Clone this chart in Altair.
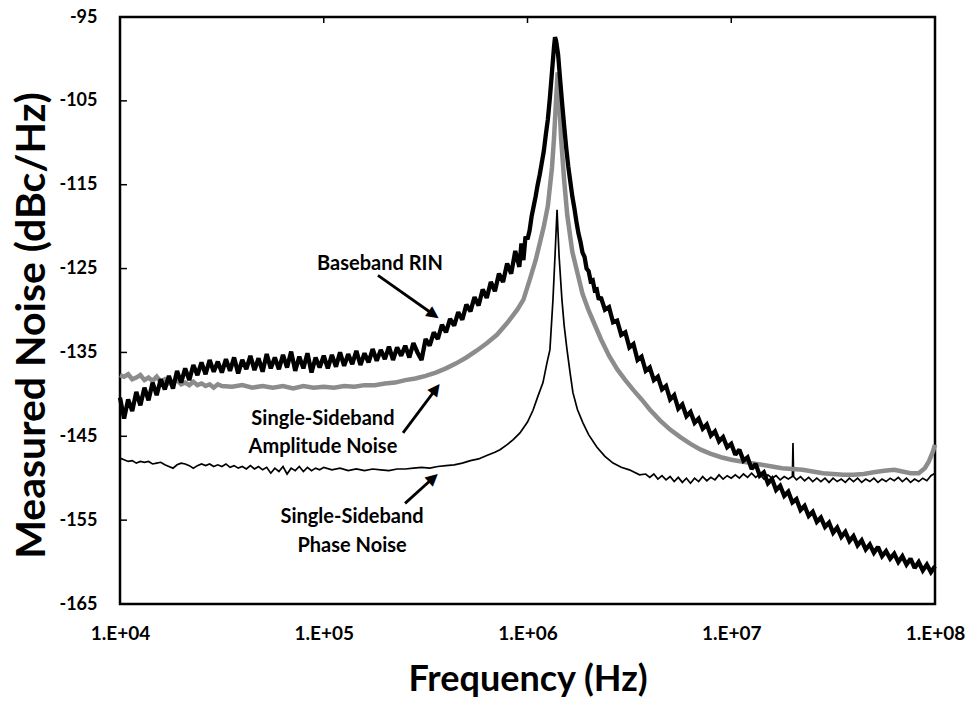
import math
import altair as alt
import pandas as pd

# ---------------- data (x = log10 of frequency in Hz, y = dBc/Hz) ----------------
rin_points = [
    (4.00, -140.4), (4.02, -142.9), (4.04, -140.6), (4.06, -142.0), (4.08, -139.7), (4.10, -141.3),
    (4.12, -139.2), (4.14, -140.7), (4.16, -138.6), (4.18, -140.1), (4.20, -138.2), (4.22, -139.4),
    (4.24, -137.8), (4.26, -139.3), (4.28, -137.2), (4.30, -138.6), (4.32, -136.9), (4.34, -138.3),
    (4.36, -136.5), (4.38, -137.7), (4.40, -136.2), (4.42, -137.6), (4.44, -135.9), (4.46, -137.3),
    (4.48, -136.1), (4.50, -137.4), (4.52, -135.8), (4.54, -137.2), (4.56, -135.6), (4.58, -137.5),
    (4.60, -135.9), (4.62, -137.0), (4.64, -135.4), (4.66, -137.1), (4.68, -135.7), (4.70, -137.3),
    (4.72, -135.2), (4.74, -136.9), (4.76, -135.6), (4.78, -137.0), (4.80, -135.3), (4.82, -136.8),
    (4.84, -134.9), (4.86, -137.2), (4.88, -135.5), (4.90, -136.9), (4.92, -135.1), (4.94, -137.4),
    (4.96, -135.6), (4.98, -136.8), (5.00, -135.4), (5.02, -136.9), (5.04, -135.3), (5.06, -136.7),
    (5.08, -135.0), (5.10, -136.6), (5.12, -135.2), (5.14, -136.4), (5.16, -134.8), (5.18, -136.5),
    (5.20, -135.1), (5.22, -136.2), (5.24, -134.6), (5.26, -136.0), (5.28, -134.7), (5.30, -135.8),
    (5.32, -134.3), (5.34, -135.9), (5.36, -134.4), (5.38, -135.4), (5.40, -134.2), (5.42, -135.6),
    (5.44, -133.9), (5.46, -135.0), (5.48, -135.9), (5.50, -133.4), (5.52, -134.2), (5.54, -132.6),
    (5.56, -133.4), (5.58, -131.7), (5.60, -132.6), (5.62, -131.0), (5.64, -131.8), (5.66, -130.2),
    (5.68, -131.1), (5.70, -129.3), (5.72, -130.1), (5.74, -128.4), (5.76, -129.4), (5.78, -127.5),
    (5.80, -128.5), (5.82, -126.6), (5.84, -127.7), (5.86, -125.6), (5.88, -126.6), (5.90, -124.4),
    (5.92, -125.6), (5.94, -122.9), (5.96, -124.8), (5.97, -122.0), (5.98, -124.0), (5.99, -121.2),
    (6.00, -121.5), (6.01, -120.5), (6.02, -118.8), (6.03, -117.6), (6.04, -116.4), (6.05, -115.0),
    (6.06, -113.8), (6.07, -112.4), (6.08, -111.0), (6.09, -109.0), (6.10, -107.2), (6.11, -104.6),
    (6.12, -101.6), (6.13, -98.6), (6.135, -97.4), (6.14, -97.8), (6.15, -99.4), (6.16, -102.4),
    (6.17, -105.3), (6.18, -108.0), (6.19, -110.6), (6.20, -112.8), (6.21, -114.6), (6.22, -116.4),
    (6.23, -117.8), (6.24, -119.4), (6.25, -120.8), (6.26, -121.8), (6.27, -123.1), (6.28, -123.6),
    (6.29, -125.0), (6.30, -125.3), (6.31, -126.5), (6.32, -126.4), (6.33, -127.6), (6.34, -127.5),
    (6.35, -128.7), (6.36, -128.4), (6.38, -129.9), (6.40, -129.6), (6.42, -131.4), (6.44, -131.2),
    (6.46, -132.9), (6.48, -132.6), (6.50, -134.4), (6.52, -134.0), (6.54, -135.9), (6.56, -135.5),
    (6.58, -137.2), (6.60, -136.8), (6.62, -138.3), (6.64, -137.9), (6.66, -139.4), (6.68, -139.0),
    (6.70, -140.6), (6.72, -140.1), (6.74, -141.7), (6.76, -141.2), (6.78, -142.6), (6.80, -142.1),
    (6.82, -143.4), (6.84, -142.9), (6.86, -144.1), (6.88, -143.6), (6.90, -144.9), (6.92, -144.4),
    (6.94, -145.6), (6.96, -145.1), (6.98, -146.3), (7.00, -145.9), (7.02, -147.2), (7.04, -146.6),
    (7.06, -147.9), (7.08, -147.5), (7.10, -148.9), (7.12, -148.3), (7.14, -149.7), (7.16, -149.3),
    (7.18, -150.6), (7.20, -150.1), (7.22, -151.4), (7.24, -150.9), (7.26, -152.1), (7.28, -151.6),
    (7.30, -152.9), (7.32, -152.5), (7.34, -153.8), (7.36, -153.3), (7.38, -154.5), (7.40, -154.0),
    (7.42, -155.2), (7.44, -154.7), (7.46, -155.8), (7.48, -155.3), (7.50, -156.5), (7.52, -155.9),
    (7.54, -157.0), (7.56, -156.4), (7.58, -157.5), (7.60, -156.9), (7.62, -158.0), (7.64, -157.4),
    (7.66, -158.5), (7.68, -157.9), (7.70, -158.9), (7.72, -158.2), (7.74, -159.3), (7.76, -158.7),
    (7.78, -159.6), (7.80, -159.0), (7.82, -160.0), (7.84, -159.3), (7.86, -160.3), (7.88, -159.6),
    (7.90, -160.7), (7.92, -160.0), (7.94, -161.0), (7.96, -160.3), (7.98, -161.2), (8.00, -160.5),
]

amp_points = [
    (4.00, -137.7), (4.02, -137.9), (4.04, -137.6), (4.06, -138.2), (4.08, -138.0), (4.10, -137.7),
    (4.12, -138.3), (4.14, -138.0), (4.16, -138.4), (4.18, -137.9), (4.20, -138.5), (4.22, -138.2),
    (4.24, -138.7), (4.26, -138.5), (4.28, -138.3), (4.30, -138.8), (4.32, -138.6), (4.34, -138.9),
    (4.36, -138.5), (4.38, -138.9), (4.40, -138.7), (4.42, -139.0), (4.44, -138.8), (4.46, -139.2),
    (4.48, -138.8), (4.50, -139.0), (4.55, -139.1), (4.60, -138.9), (4.65, -139.2), (4.70, -139.0),
    (4.75, -139.2), (4.80, -139.0), (4.85, -139.3), (4.90, -139.0), (4.95, -139.2), (5.00, -139.1),
    (5.05, -139.2), (5.10, -139.0), (5.15, -139.1), (5.20, -138.9), (5.25, -138.9), (5.30, -138.7),
    (5.35, -138.6), (5.40, -138.3), (5.45, -138.1), (5.50, -137.8), (5.55, -137.4), (5.60, -136.9),
    (5.65, -136.3), (5.70, -135.6), (5.75, -134.8), (5.80, -133.9), (5.85, -132.9), (5.90, -131.5),
    (5.95, -129.9), (5.98, -128.7), (6.01, -126.4), (6.04, -124.0), (6.06, -122.0), (6.08, -120.0),
    (6.10, -117.5), (6.12, -113.0), (6.13, -109.5), (6.14, -105.0), (6.148, -101.6), (6.155, -104.8),
    (6.165, -109.5), (6.18, -114.5), (6.195, -118.6), (6.22, -123.0), (6.25, -126.0), (6.27, -128.0),
    (6.30, -130.0), (6.33, -131.7), (6.36, -133.4), (6.40, -135.4), (6.44, -137.0), (6.48, -138.3),
    (6.52, -139.5), (6.56, -140.6), (6.60, -141.8), (6.65, -143.1), (6.70, -144.2), (6.75, -145.1),
    (6.80, -145.9), (6.85, -146.6), (6.90, -147.1), (6.95, -147.5), (7.00, -147.8), (7.05, -148.0),
    (7.10, -148.2), (7.15, -148.4), (7.20, -148.6), (7.25, -148.8), (7.30, -148.9), (7.35, -149.0),
    (7.40, -149.2), (7.45, -149.4), (7.50, -149.5), (7.55, -149.6), (7.60, -149.6), (7.65, -149.5),
    (7.70, -149.3), (7.75, -149.1), (7.80, -149.0), (7.84, -149.2), (7.88, -149.4), (7.92, -149.4),
    (7.95, -148.8), (7.97, -148.0), (7.99, -146.8), (8.00, -146.0),
]

phase_points = [
    (4.00, -147.6), (4.02, -147.8), (4.04, -148.0), (4.06, -147.9), (4.08, -148.2), (4.10, -148.0),
    (4.12, -148.1), (4.14, -148.0), (4.16, -148.3), (4.18, -148.2), (4.20, -148.1), (4.22, -148.4),
    (4.24, -148.6), (4.26, -148.8), (4.28, -148.4), (4.30, -148.2), (4.32, -148.3), (4.34, -148.5),
    (4.36, -148.8), (4.38, -148.5), (4.40, -148.3), (4.42, -148.5), (4.44, -148.3), (4.46, -148.6),
    (4.48, -148.4), (4.50, -148.6), (4.52, -148.3), (4.54, -148.7), (4.56, -148.5), (4.58, -148.8),
    (4.60, -148.6), (4.62, -148.9), (4.64, -148.5), (4.66, -148.9), (4.68, -148.6), (4.70, -149.0),
    (4.72, -148.7), (4.74, -149.4), (4.76, -148.8), (4.78, -149.2), (4.80, -148.6), (4.82, -149.5),
    (4.84, -148.8), (4.86, -149.1), (4.88, -148.6), (4.90, -149.2), (4.92, -148.7), (4.94, -149.1),
    (4.96, -148.8), (4.98, -149.0), (5.00, -148.7), (5.04, -149.0), (5.08, -148.8), (5.12, -149.1),
    (5.16, -148.9), (5.20, -149.1), (5.24, -148.9), (5.28, -149.0), (5.32, -149.1), (5.36, -148.9),
    (5.40, -148.9), (5.44, -148.8), (5.48, -148.7), (5.52, -148.8), (5.56, -148.6), (5.60, -148.5),
    (5.64, -148.4), (5.68, -148.2), (5.72, -147.9), (5.76, -147.7), (5.80, -147.3), (5.84, -146.9),
    (5.865, -146.6), (5.90, -146.0), (5.93, -145.4), (5.963, -144.6), (6.00, -143.3), (6.027, -141.9),
    (6.05, -140.3), (6.076, -138.6), (6.095, -136.3), (6.11, -134.7), (6.125, -128.7), (6.135, -123.5),
    (6.145, -118.0), (6.155, -123.5), (6.169, -128.7), (6.18, -131.8), (6.194, -134.7), (6.21, -137.6),
    (6.223, -139.8), (6.245, -141.8), (6.272, -143.4), (6.30, -144.8), (6.341, -146.3), (6.38, -147.4),
    (6.42, -148.2), (6.46, -148.7), (6.50, -149.0), (6.55, -149.6), (6.58, -149.5), (6.60, -149.9),
    (6.62, -149.5), (6.64, -150.1), (6.66, -149.7), (6.68, -150.2), (6.70, -149.8), (6.72, -150.4),
    (6.74, -149.9), (6.76, -150.5), (6.78, -150.0), (6.80, -150.6), (6.82, -150.0), (6.84, -150.4),
    (6.86, -149.8), (6.88, -150.3), (6.90, -149.9), (6.92, -150.2), (6.94, -149.6), (6.96, -150.1),
    (6.98, -149.7), (7.00, -150.0), (7.02, -149.6), (7.04, -150.0), (7.06, -149.5), (7.08, -149.9),
    (7.10, -149.4), (7.12, -149.9), (7.14, -149.5), (7.16, -150.1), (7.18, -149.6), (7.20, -150.0),
    (7.22, -149.7), (7.24, -150.2), (7.26, -149.8), (7.28, -150.1), (7.30, -149.8), (7.303, -145.8),
    (7.306, -149.8), (7.32, -150.2), (7.34, -149.8), (7.36, -150.3), (7.38, -149.9), (7.40, -150.4),
    (7.42, -150.0), (7.44, -150.4), (7.46, -150.0), (7.48, -150.5), (7.50, -150.0), (7.52, -150.4),
    (7.54, -150.1), (7.56, -150.5), (7.58, -150.0), (7.60, -150.4), (7.62, -150.0), (7.64, -150.5),
    (7.66, -150.1), (7.68, -150.4), (7.70, -150.0), (7.72, -150.5), (7.74, -150.1), (7.76, -150.4),
    (7.78, -150.0), (7.80, -150.3), (7.82, -149.9), (7.84, -150.4), (7.86, -150.0), (7.88, -150.5),
    (7.90, -150.1), (7.92, -150.4), (7.94, -150.0), (7.96, -150.3), (7.98, -149.7), (8.00, -149.4),
]

x_ticks = [1e4, 1e5, 1e6, 1e7, 1e8]
y_ticks = [-165, -155, -145, -135, -125, -115, -105, -95]

# annotation text lines: (text, log10 f, dB)
labels = [
    ("Baseband RIN", 5.276, -124.45),
    ("Single-Sideband", 4.996, -142.9),
    ("Amplitude Noise", 4.996, -146.3),
    ("Single-Sideband", 5.139, -154.6),
    ("Phase Noise", 5.139, -158.1),
]
# arrows: (start log10 f, start dB, end log10 f, end dB)
arrows = [
    (5.266, -125.8, 5.563, -130.9),
    (5.389, -144.6, 5.568, -138.8),
    (5.399, -153.0, 5.558, -149.5),
]

W, H = 815, 587
XMIN, XMAX = 4.0, 8.0
YMIN, YMAX = -165.0, -95.0
FONT = "Lato"

xscale = alt.Scale(type="log", domain=[1e4, 1e8], nice=False)
yscale = alt.Scale(domain=[YMIN, YMAX], nice=False, zero=False)

xaxis = alt.Axis(values=x_ticks, labelExpr="'1.E+0' + round(log(datum.value) / LN10)",
                 title="Frequency (Hz)", domain=False, ticks=False, tickSize=0, grid=False,
                 labelFlush=False, labelBound=False, labelOverlap=False,
                 labelPadding=20, labelFontSize=19, titleFontSize=36,
                 titleX=W / 2, titleY=86, titleBaseline="alphabetic", titleAlign="center")
yaxis = alt.Axis(values=y_ticks, labelExpr="'-' + abs(datum.value)", title="Measured Noise (dBc/Hz)",
                 domain=False, ticks=False, tickSize=0, grid=False, labelFlush=False,
                 labelOverlap=False, labelPadding=23, labelFontSize=18,
                 titleFontSize=41, titleAngle=270, titleX=-76, titleY=308,
                 titleBaseline="alphabetic", titleAlign="center")

X = alt.X("f:Q", scale=xscale, axis=xaxis)
Y = alt.Y("db:Q", scale=yscale, axis=yaxis)


def curve_df(points):
    return pd.DataFrame({"f": [10 ** p[0] for p in points], "db": [p[1] for p in points],
                         "i": list(range(len(points)))})


def line_layer(points, color, width):
    return alt.Chart(curve_df(points)).mark_line(color=color, strokeWidth=width,
                                                 strokeJoin="miter", strokeMiterLimit=2).encode(
        x=X, y=Y, order="i:Q")


phase_layer = line_layer(phase_points, "#000000", 1.7)
amp_layer = line_layer(amp_points, "#8c8c8c", 4.5)
rin_layer = line_layer(rin_points, "#000000", 4.3)

# inside tick marks (left and top)
left_ticks = alt.Chart(pd.DataFrame({"db": y_ticks})).mark_rule(color="black", strokeWidth=1.5).encode(
    y=Y, x=alt.value(0), x2=alt.value(7))
top_ticks = alt.Chart(pd.DataFrame({"f": x_ticks})).mark_rule(color="black", strokeWidth=1.5).encode(
    x=X, y=alt.value(0), y2=alt.value(6))

# annotations
lab_df = pd.DataFrame({"t": [l[0] for l in labels], "f": [10 ** l[1] for l in labels],
                       "db": [l[2] for l in labels]})
text_layer = alt.Chart(lab_df).mark_text(font=FONT, fontWeight="bold", fontSize=20, color="black",
                                         align="center", baseline="middle").encode(
    x=X, y=Y, text="t:N")


def px(lf, db):
    return (lf - XMIN) / (XMAX - XMIN) * W, (YMAX - db) / (YMAX - YMIN) * H


def unpx(x, y):
    return XMIN + x / W * (XMAX - XMIN), YMAX - y / H * (YMAX - YMIN)


shaft_rows, head_rows = [], []
HEAD_BACK = 5.0  # centre of the arrow-head glyph sits this many px behind the tip
for k, (lf0, d0, lf1, d1) in enumerate(arrows):
    x0, y0 = px(lf0, d0)
    x1, y1 = px(lf1, d1)
    L = math.hypot(x1 - x0, y1 - y0)
    ux, uy = (x1 - x0) / L, (y1 - y0) / L
    sx, sy = unpx(x1 - ux * 7, y1 - uy * 7)
    shaft_rows.append({"a": k, "f": 10 ** lf0, "db": d0, "o": 0})
    shaft_rows.append({"a": k, "f": 10 ** sx, "db": sy, "o": 1})
    hx, hy = unpx(x1 - ux * HEAD_BACK, y1 - uy * HEAD_BACK)
    ang = math.degrees(math.atan2(x1 - x0, -(y1 - y0))) % 360
    head_rows.append({"f": 10 ** hx, "db": hy, "ang": ang, "g": "\u25B2"})

shaft_layer = alt.Chart(pd.DataFrame(shaft_rows)).mark_line(color="black", strokeWidth=2.8).encode(
    x=X, y=Y, detail="a:N", order="o:Q")
head_layer = alt.Chart(pd.DataFrame(head_rows)).mark_text(
    font="DejaVu Sans", fontSize=16, color="black", align="center", baseline="middle").encode(
    x=X, y=Y, text="g:N", angle=alt.Angle("ang:Q", scale=None))

chart = alt.layer(phase_layer, amp_layer, rin_layer, left_ticks, top_ticks,
                  shaft_layer, head_layer, text_layer).properties(
    width=W, height=H,
    autosize=alt.AutoSizeParams(type="none"),
    padding={"left": 120, "top": 17, "right": 36, "bottom": 98},
    background="white",
).configure_view(stroke="black", strokeWidth=2.5).configure_axis(
    labelFont=FONT, labelFontWeight="bold", labelColor="black",
    titleFont=FONT, titleFontWeight="bold", titleColor="black")

chart.save("out.html", embed_options={"renderer": "svg", "actions": False})
